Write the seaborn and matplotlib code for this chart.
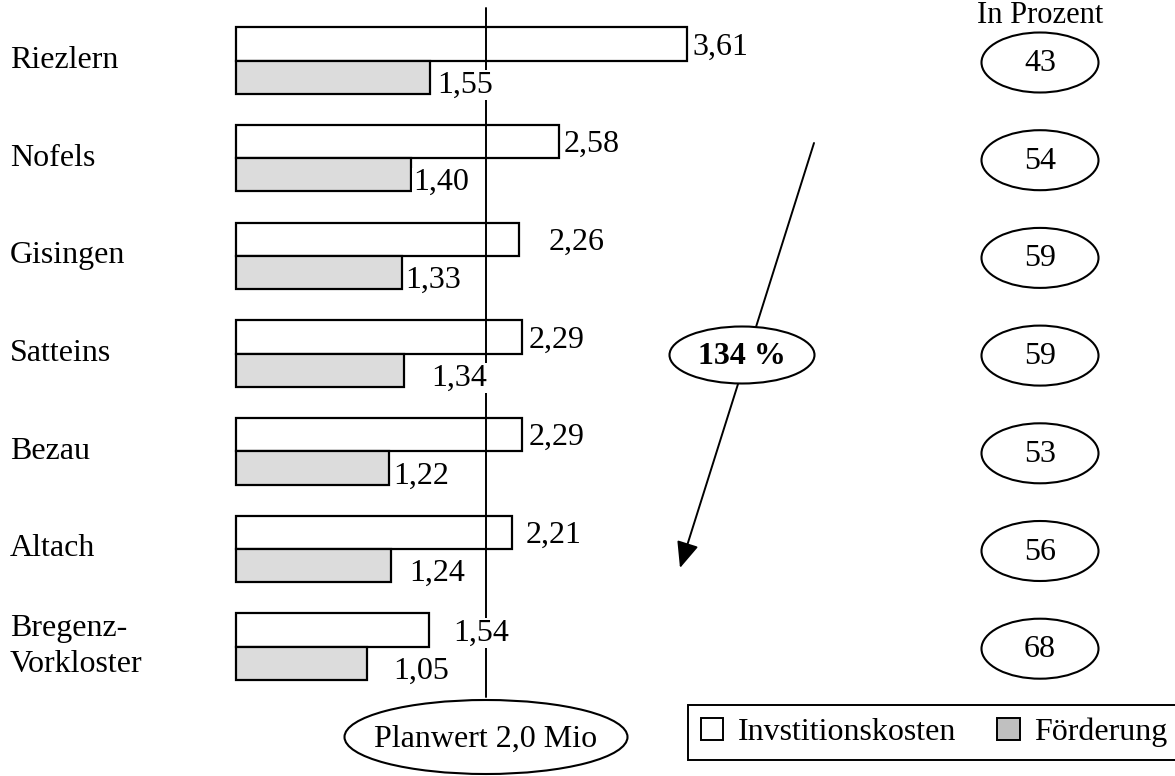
import matplotlib
matplotlib.use("Agg")
import matplotlib.pyplot as plt
from matplotlib.patches import Ellipse, Patch
import pandas as pd
import seaborn as sns

# Werte in Mio
orte = ["Riezlern", "Nofels", "Gisingen", "Satteins", "Bezau", "Altach", "Bregenz-\nVorkloster"]
investition = [3.61, 2.58, 2.26, 2.29, 2.29, 2.21, 1.54]
foerderung = [1.55, 1.40, 1.33, 1.34, 1.22, 1.24, 1.05]
prozent = [43, 54, 59, 59, 53, 56, 68]
planwert = 2.0
steigerung = "134 %"
serien = ["Invstitionskosten", "Förderung"]

# Abstand der Wertbeschriftungen zum Balkenende (Pixel)
gap_inv = [5, 5, 30, 6, 6, 13, 25]
gap_foe = [7, 2, 3, 28, 5, 18, 26]

sns.set_style("white")
plt.rcParams["font.family"] = ["Liberation Serif", "DejaVu Serif"]
plt.rcParams["text.color"] = "black"
FS = 23

W, H, DPI = 1175, 776, 100
fig = plt.figure(figsize=(W / DPI, H / DPI), dpi=DPI)
fig.patch.set_facecolor("white")

ax = fig.add_axes([0, 0, 1, 1])
df = pd.DataFrame({
    "Ort": orte * 2,
    "Wert": investition + foerderung,
    "Art": [serien[0]] * len(orte) + [serien[1]] * len(orte),
})
sns.barplot(data=df, y="Ort", x="Wert", hue="Art", orient="h",
            palette=["white", "#dcdcdc"], edgecolor="black", linewidth=1.6,
            width=0.68, ax=ax, legend=False, zorder=2)

# 0 bei x=236 px, 125 px je Mio; Gruppen im Abstand von 97,7 px
px_per_unit = 125.0
ax.set_xlim(-236 / px_per_unit, (W - 236) / px_per_unit)
row = 97.7
ax.set_ylim((H - 60.5) / row, -60.5 / row)
ax.axis("off")

# Planwert-Linie
ax.plot([planwert, planwert], [(8 - 60.5) / row, (697 - 60.5) / row],
        color="black", lw=1.4, zorder=3)

# Beschriftungen der Balken
half = 0.17
box = dict(facecolor="white", edgecolor="none", pad=0.5)
for i, (vi, vf) in enumerate(zip(investition, foerderung)):
    ax.annotate(f"{vi:.2f}".replace(".", ","), xy=(vi, i - half),
                xytext=(gap_inv[i], -3), textcoords="offset pixels",
                ha="left", va="center", fontsize=FS, bbox=box, zorder=4)
    ax.annotate(f"{vf:.2f}".replace(".", ","), xy=(vf, i + half),
                xytext=(gap_foe[i], -8), textcoords="offset pixels",
                ha="left", va="center", fontsize=FS, bbox=box, zorder=4)
    ax.text(-226 / px_per_unit, i, orte[i], ha="left", va="center",
            fontsize=FS, linespacing=1.3)

# Overlay in Pixelkoordinaten für Ellipsen, Pfeil und Legende
ov = fig.add_axes([0, 0, 1, 1], facecolor="none")
ov.set_xlim(0, W)
ov.set_ylim(H, 0)
ov.axis("off")

ov.text(1040, 1, "In Prozent", ha="center", va="top", fontsize=FS - 1)
for i, p in enumerate(prozent):
    cy = 60.5 + row * i + 2
    ov.add_patch(Ellipse((1040, cy), 117, 60, facecolor="white",
                         edgecolor="black", lw=1.5))
    ov.text(1040, cy + 1, str(p), ha="center", va="center", fontsize=FS)

# Pfeil mit Steigerung
ov.annotate("", xy=(680, 568), xytext=(814, 143),
            arrowprops=dict(arrowstyle="-|>,head_length=0.8,head_width=0.34",
                            mutation_scale=20, color="black", lw=1.4,
                            shrinkA=0, shrinkB=0))
ov.add_patch(Ellipse((742, 355), 145, 57, facecolor="white",
                     edgecolor="black", lw=1.5, zorder=3))
ov.text(742, 356, steigerung, ha="center", va="center", fontsize=FS,
        fontweight="bold", zorder=4)

# Planwert-Ellipse unter der Linie
line_px = ax.transData.transform((planwert, 0))[0]
ov.add_patch(Ellipse((line_px, 737), 283, 74, facecolor="white",
                     edgecolor="black", lw=1.5))
ov.text(line_px, 739, f"Planwert {planwert:.1f} Mio".replace(".", ","),
        ha="center", va="center", fontsize=FS)

# Legende
handles = [Patch(facecolor="white", edgecolor="black", lw=1.4),
           Patch(facecolor="#c0c0c0", edgecolor="black", lw=1.4)]
leg = ov.legend(handles, serien, loc="lower left",
                bbox_to_anchor=(688 / W, 16 / H), bbox_transform=fig.transFigure,
                ncol=2, fontsize=FS, frameon=True, fancybox=False,
                edgecolor="black", framealpha=1, handlelength=0.7,
                handleheight=0.7, handletextpad=0.45, columnspacing=1.3,
                borderpad=0.4, borderaxespad=0)
leg.get_frame().set_linewidth(1.4)

fig.savefig("out.png", dpi=DPI, facecolor="white")
